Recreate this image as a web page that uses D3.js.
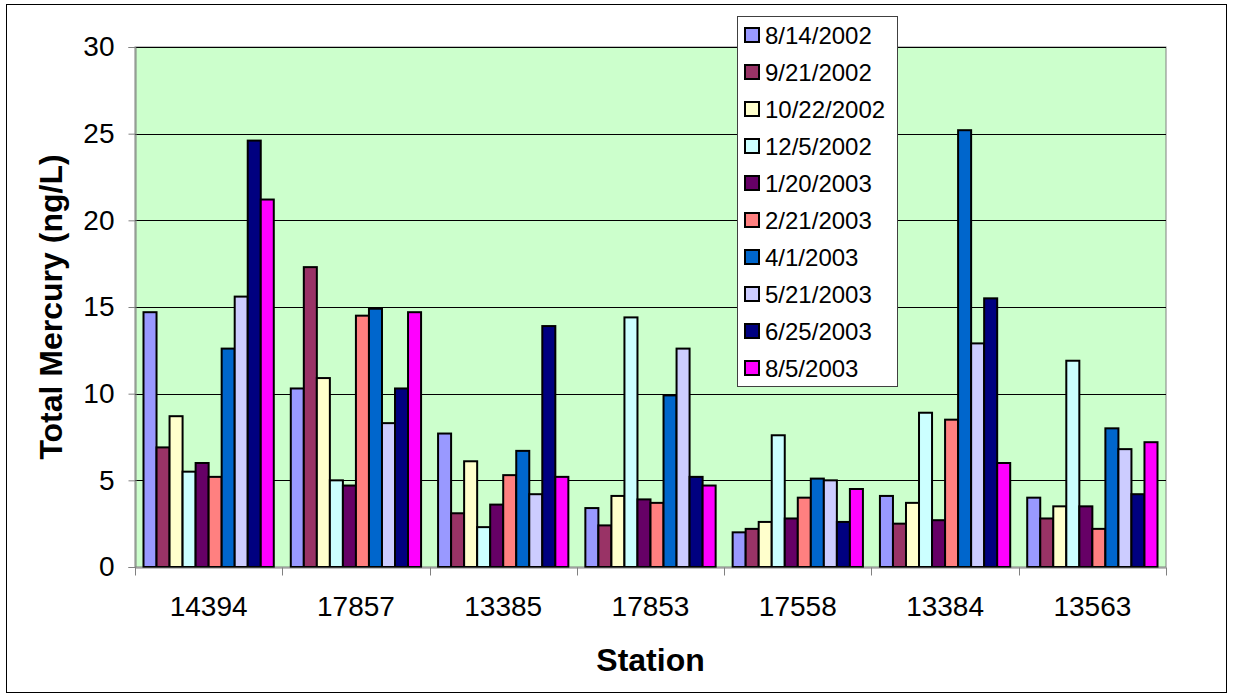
<!DOCTYPE html>
<html>
<head>
<meta charset="utf-8">
<script src="https://cdn.jsdelivr.net/npm/d3@7"></script>
<style>
  html, body { margin: 0; padding: 0; background: #fff; }
  svg { display: block; font-family: Arial, "Liberation Sans", sans-serif; }
</style>
</head>
<body>
<svg id="chart" width="1233" height="698"></svg>
<script>
// Sampling stations along the x axis
const stations = ["14394", "17857", "13385", "17853", "17558", "13384", "13563"];

// Sampling dates (one bar per date in each station group)
const sampleDates = ["8/14/2002", "9/21/2002", "10/22/2002", "12/5/2002", "1/20/2003",
                     "2/21/2003", "4/1/2003", "5/21/2003", "6/25/2003", "8/5/2003"];

// Total mercury (ng/L) per date, in station order
const hg_20020814 = [14.7, 10.3, 7.7, 3.4, 2.0, 4.1, 4.0];
const hg_20020921 = [6.9, 17.3, 3.1, 2.4, 2.2, 2.5, 2.8];
const hg_20021022 = [8.7, 10.9, 6.1, 4.1, 2.6, 3.7, 3.5];
const hg_20021205 = [5.5, 5.0, 2.3, 14.4, 7.6, 8.9, 11.9];
const hg_20030120 = [6.0, 4.7, 3.6, 3.9, 2.8, 2.7, 3.5];
const hg_20030221 = [5.2, 14.5, 5.3, 3.7, 4.0, 8.5, 2.2];
const hg_20030401 = [12.6, 14.9, 6.7, 9.9, 5.1, 25.2, 8.0];
const hg_20030521 = [15.6, 8.3, 4.2, 12.6, 5.0, 12.9, 6.8];
const hg_20030625 = [24.6, 10.3, 13.9, 5.2, 2.6, 15.5, 4.2];
const hg_20030805 = [21.2, 14.7, 5.2, 4.7, 4.5, 6.0, 7.2];

const seriesValues = [hg_20020814, hg_20020921, hg_20021022, hg_20021205, hg_20030120,
                      hg_20030221, hg_20030401, hg_20030521, hg_20030625, hg_20030805];

const seriesColors = ["#9999FF", "#993366", "#FFFFCC", "#CCFFFF", "#660066",
                      "#FF8080", "#0066CC", "#CCCCFF", "#000080", "#FF00FF"];

const yTicks = [0, 5, 10, 15, 20, 25, 30];

const svg = d3.select("#chart");

// Outer chart frame
svg.append("rect")
  .attr("x", 6.5).attr("y", 4.5)
  .attr("width", 1220).attr("height", 688)
  .attr("fill", "#fff").attr("stroke", "#000").attr("stroke-width", 1);

const plot = { left: 135, right: 1166, top: 47, bottom: 567 };

const x0 = d3.scaleBand().domain(stations).range([plot.left, plot.right]).padding(0);
const x1 = d3.scaleBand().domain(sampleDates)
  .range([8.5, x0.bandwidth() - 8.5]).padding(0);
const y = d3.scaleLinear().domain([0, 30]).range([plot.bottom, plot.top]);

// Plot background
svg.append("rect")
  .attr("x", plot.left).attr("y", plot.top)
  .attr("width", plot.right - plot.left).attr("height", plot.bottom - plot.top)
  .attr("fill", "#CCFFCC").attr("stroke", "#808080").attr("stroke-width", 1);

// Horizontal gridlines
svg.append("g").selectAll("line")
  .data(yTicks.filter(t => t > 0))
  .join("line")
  .attr("x1", plot.left).attr("x2", plot.right)
  .attr("y1", d => Math.round(y(d)) + 0.5).attr("y2", d => Math.round(y(d)) + 0.5)
  .attr("stroke", "#000").attr("stroke-width", 1);

// Bars
const groups = svg.append("g").selectAll("g")
  .data(stations)
  .join("g")
  .attr("transform", d => `translate(${x0(d)},0)`);

groups.selectAll("rect")
  .data((s, i) => sampleDates.map((dt, k) => ({ date: dt, k, value: seriesValues[k][i] })))
  .join("rect")
  .attr("x", d => x1(d.date))
  .attr("width", x1.bandwidth())
  .attr("y", d => y(d.value))
  .attr("height", d => y(0) - y(d.value))
  .attr("fill", d => seriesColors[d.k])
  .attr("stroke", "#000")
  .attr("stroke-width", 2);

// Y axis
const yAxis = d3.axisLeft(y).tickValues(yTicks).tickSize(7).tickPadding(14)
  .tickFormat(d3.format("d"));
const gy = svg.append("g")
  .attr("transform", `translate(${plot.left + 0.5},0)`)
  .call(yAxis);
gy.select(".domain").attr("stroke", "#808080");
gy.selectAll(".tick line").attr("stroke", "#808080");
gy.selectAll(".tick text")
  .attr("font-size", 28).attr("fill", "#000")
  .attr("font-family", "Arial, 'Liberation Sans', sans-serif");

// X axis
const xAxis = d3.axisBottom(x0).tickSize(0).tickPadding(29);
const gx = svg.append("g")
  .attr("transform", `translate(0,${plot.bottom + 0.5})`)
  .call(xAxis);
gx.select(".domain").attr("stroke", "#808080");
gx.selectAll(".tick text")
  .attr("font-size", 28).attr("fill", "#000")
  .attr("font-family", "Arial, 'Liberation Sans', sans-serif");

// Category separator ticks
const boundaries = stations.map(s => x0(s)).concat([plot.right]);
gx.append("g").selectAll("line")
  .data(boundaries)
  .join("line")
  .attr("x1", d => Math.round(d) + 0.5).attr("x2", d => Math.round(d) + 0.5)
  .attr("y1", 0).attr("y2", 8)
  .attr("stroke", "#808080");

// Axis titles
svg.append("text")
  .attr("x", (plot.left + plot.right) / 2)
  .attr("y", 671)
  .attr("text-anchor", "middle")
  .attr("font-size", 32).attr("font-weight", "bold")
  .text("Station");

svg.append("text")
  .attr("transform", `translate(62,${(plot.top + plot.bottom) / 2}) rotate(-90)`)
  .attr("text-anchor", "middle")
  .attr("font-size", 32).attr("font-weight", "bold")
  .text("Total Mercury (ng/L)");

// Legend
const legend = svg.append("g");
legend.append("rect")
  .attr("x", 737.5).attr("y", 16.5)
  .attr("width", 160).attr("height", 370)
  .attr("fill", "#fff").attr("stroke", "#404040").attr("stroke-width", 1);

const items = legend.selectAll("g.item")
  .data(sampleDates)
  .join("g")
  .attr("class", "item")
  .attr("transform", (d, i) => `translate(0,${35 + i * 37})`);

items.append("rect")
  .attr("x", 745).attr("y", -7)
  .attr("width", 14).attr("height", 14)
  .attr("fill", (d, i) => seriesColors[i])
  .attr("stroke", "#000").attr("stroke-width", 2);

items.append("text")
  .attr("x", 765).attr("y", 8.5)
  .attr("font-size", 24)
  .attr("fill", "#000")
  .text(d => d);
</script>
</body>
</html>
